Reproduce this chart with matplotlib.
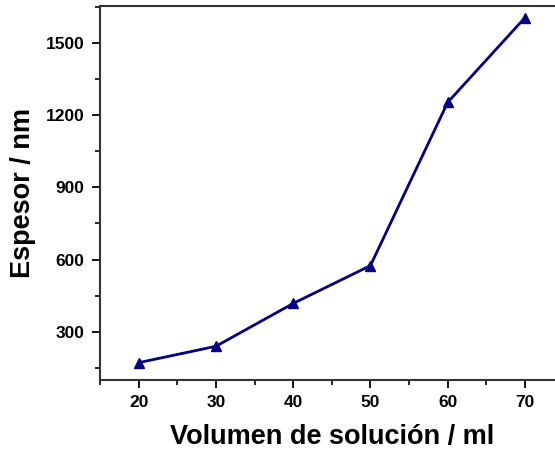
import matplotlib.pyplot as plt
from matplotlib.ticker import MultipleLocator

plt.rcParams['font.family'] = ['Liberation Sans', 'DejaVu Sans']
plt.rcParams['font.weight'] = 'bold'

volumen = [20, 30, 40, 50, 60, 70]
espesor = [172, 240, 418, 575, 1253, 1605]

fig = plt.figure(figsize=(5.55, 4.54), dpi=100)
# axes run slightly past the right edge of the figure
ax = fig.add_axes([100 / 555, 74 / 454, 463.6 / 555, 373.7 / 454])

ax.plot(volumen, espesor, color='#000080', linewidth=2,
        marker='^', markersize=7.5, markerfacecolor='#000080',
        markeredgecolor='#000080')

ax.set_xlim(15, 75)
ax.set_ylim(100, 1652)
ax.xaxis.set_major_locator(MultipleLocator(10))
ax.xaxis.set_minor_locator(MultipleLocator(5))
ax.yaxis.set_major_locator(MultipleLocator(300))
ax.yaxis.set_minor_locator(MultipleLocator(150))

ax.tick_params(which='major', direction='out', length=6, width=1.3,
               labelsize=12.5, pad=5)
ax.tick_params(which='minor', direction='out', length=3.5, width=1.2)
for s in ax.spines.values():
    s.set_linewidth(1.5)
    s.set_color('#333333')

for lab in ax.get_xticklabels() + ax.get_yticklabels():
    lab.set_fontweight('bold')

ax.set_xlabel('Volumen de solución / ml', fontsize=19.5, fontweight='bold', labelpad=10)
ax.set_ylabel('Espesor / nm', fontsize=19.5, fontweight='bold', labelpad=7)

fig.savefig('out.png', dpi=100)
